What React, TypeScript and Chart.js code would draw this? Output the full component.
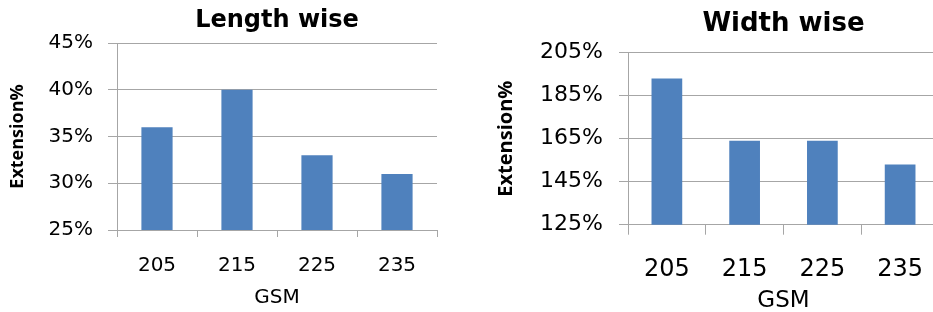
import { useEffect, useRef } from 'react';
import { Chart, registerables } from 'chart.js';

Chart.register(...registerables);

const categories = ['205', '215', '225', '235'];
const lengthWise = [36, 40, 33, 31];
const widthWise = [193, 164, 164, 153];
const lengthTicks = [25, 30, 35, 40, 45];
const widthTicks = [125, 145, 165, 185, 205];

const BAR = '#4F81BD';
const GRID = '#A6A6A6';
const TEXT = '#000000';

type Opts = {
  title: string;
  values: number[];
  ticks: number[];
  pad: { left: number; top: number; right: number; bottom: number };
  titleFont: number;
  titlePad: { top: number; bottom: number };
  yWidth: number;
  yTickFont: number;
  yTickPad: number;
  yTitleFont: number;
  xHeight: number;
  xTickLen: number;
  xTickFont: number;
  xTickPad: number;
  xTitleFont: number;
  barPct: number;
};

function makeConfig(o: Opts): any {
  return {
    type: 'bar',
    data: {
      labels: categories,
      datasets: [
        {
          data: o.values,
          backgroundColor: BAR,
          borderWidth: 0,
          barPercentage: o.barPct,
          categoryPercentage: 1,
        },
      ],
    },
    options: {
      responsive: false,
      animation: false,
      devicePixelRatio: 1,
      layout: { padding: o.pad },
      plugins: {
        legend: { display: false },
        tooltip: { enabled: false },
        title: {
          display: true,
          text: o.title,
          fullSize: false,
          color: TEXT,
          font: { family: 'DejaVu Sans', size: o.titleFont, weight: 'bold' },
          padding: o.titlePad,
        },
      },
      scales: {
        x: {
          afterFit: (s: any) => {
            s.height = o.xHeight;
          },
          grid: {
            display: true,
            drawOnChartArea: false,
            drawTicks: true,
            tickLength: o.xTickLen,
            color: GRID,
            lineWidth: 1,
          },
          border: { display: true, color: GRID, width: 1 },
          ticks: {
            color: TEXT,
            padding: o.xTickPad,
            font: { family: 'DejaVu Sans', size: o.xTickFont },
            maxRotation: 0,
          },
          title: {
            display: true,
            text: 'GSM',
            color: TEXT,
            padding: 0,
            font: { family: 'DejaVu Sans', size: o.xTitleFont },
          },
        },
        y: {
          min: o.ticks[0],
          max: o.ticks[o.ticks.length - 1],
          afterFit: (s: any) => {
            s.width = o.yWidth;
          },
          afterBuildTicks: (s: any) => {
            s.ticks = o.ticks.map((v) => ({ value: v }));
          },
          grid: {
            color: GRID,
            lineWidth: 1,
            drawTicks: true,
            tickLength: 9,
          },
          border: { display: true, color: GRID, width: 1 },
          ticks: {
            color: TEXT,
            padding: o.yTickPad,
            font: { family: 'DejaVu Sans', size: o.yTickFont },
            callback: (v: any) => v + '%',
          },
          title: {
            display: true,
            text: 'Extension%',
            color: TEXT,
            padding: 0,
            font: { family: 'Open Sans', size: o.yTitleFont, weight: 'bold' },
          },
        },
      },
    },
  };
}

export default function App() {
  const leftRef = useRef<HTMLCanvasElement | null>(null);
  const rightRef = useRef<HTMLCanvasElement | null>(null);

  useEffect(() => {
    const left = new Chart(
      leftRef.current as HTMLCanvasElement,
      makeConfig({
        title: 'Length wise',
        values: lengthWise,
        ticks: lengthTicks,
        pad: { left: 6.6, top: 0, right: 33, bottom: 2 },
        titleFont: 24,
        titlePad: { top: 6, bottom: 8.2 },
        yWidth: 110.4,
        yTickFont: 20,
        yTickPad: 15,
        yTitleFont: 18,
        xHeight: 80,
        xTickLen: 7,
        xTickFont: 20,
        xTickPad: 17,
        xTitleFont: 20,
        barPct: 0.39,
      })
    );
    const right = new Chart(
      rightRef.current as HTMLCanvasElement,
      makeConfig({
        title: 'Width wise',
        values: widthWise,
        ticks: widthTicks,
        pad: { left: 24.1, top: 0, right: 11, bottom: 1.2 },
        titleFont: 26,
        titlePad: { top: 9.1, bottom: 12.4 },
        yWidth: 133.9,
        yTickFont: 22,
        yTickPad: 16,
        yTitleFont: 20,
        xHeight: 90.1,
        xTickLen: 10,
        xTickFont: 24,
        xTickPad: 21,
        xTitleFont: 23,
        barPct: 0.395,
      })
    );
    return () => {
      left.destroy();
      right.destroy();
    };
  }, []);

  return (
    <div
      style={{
        position: 'fixed',
        left: 0,
        top: 0,
        width: 933,
        height: 312,
        overflow: 'hidden',
        background: '#ffffff',
      }}
    >
      <canvas
        ref={leftRef}
        width={470}
        height={312}
        style={{ position: 'absolute', left: 0, top: 0, width: 470, height: 312 }}
      />
      <canvas
        ref={rightRef}
        width={480}
        height={316}
        style={{ position: 'absolute', left: 470, top: 0, width: 480, height: 316 }}
      />
    </div>
  );
}
